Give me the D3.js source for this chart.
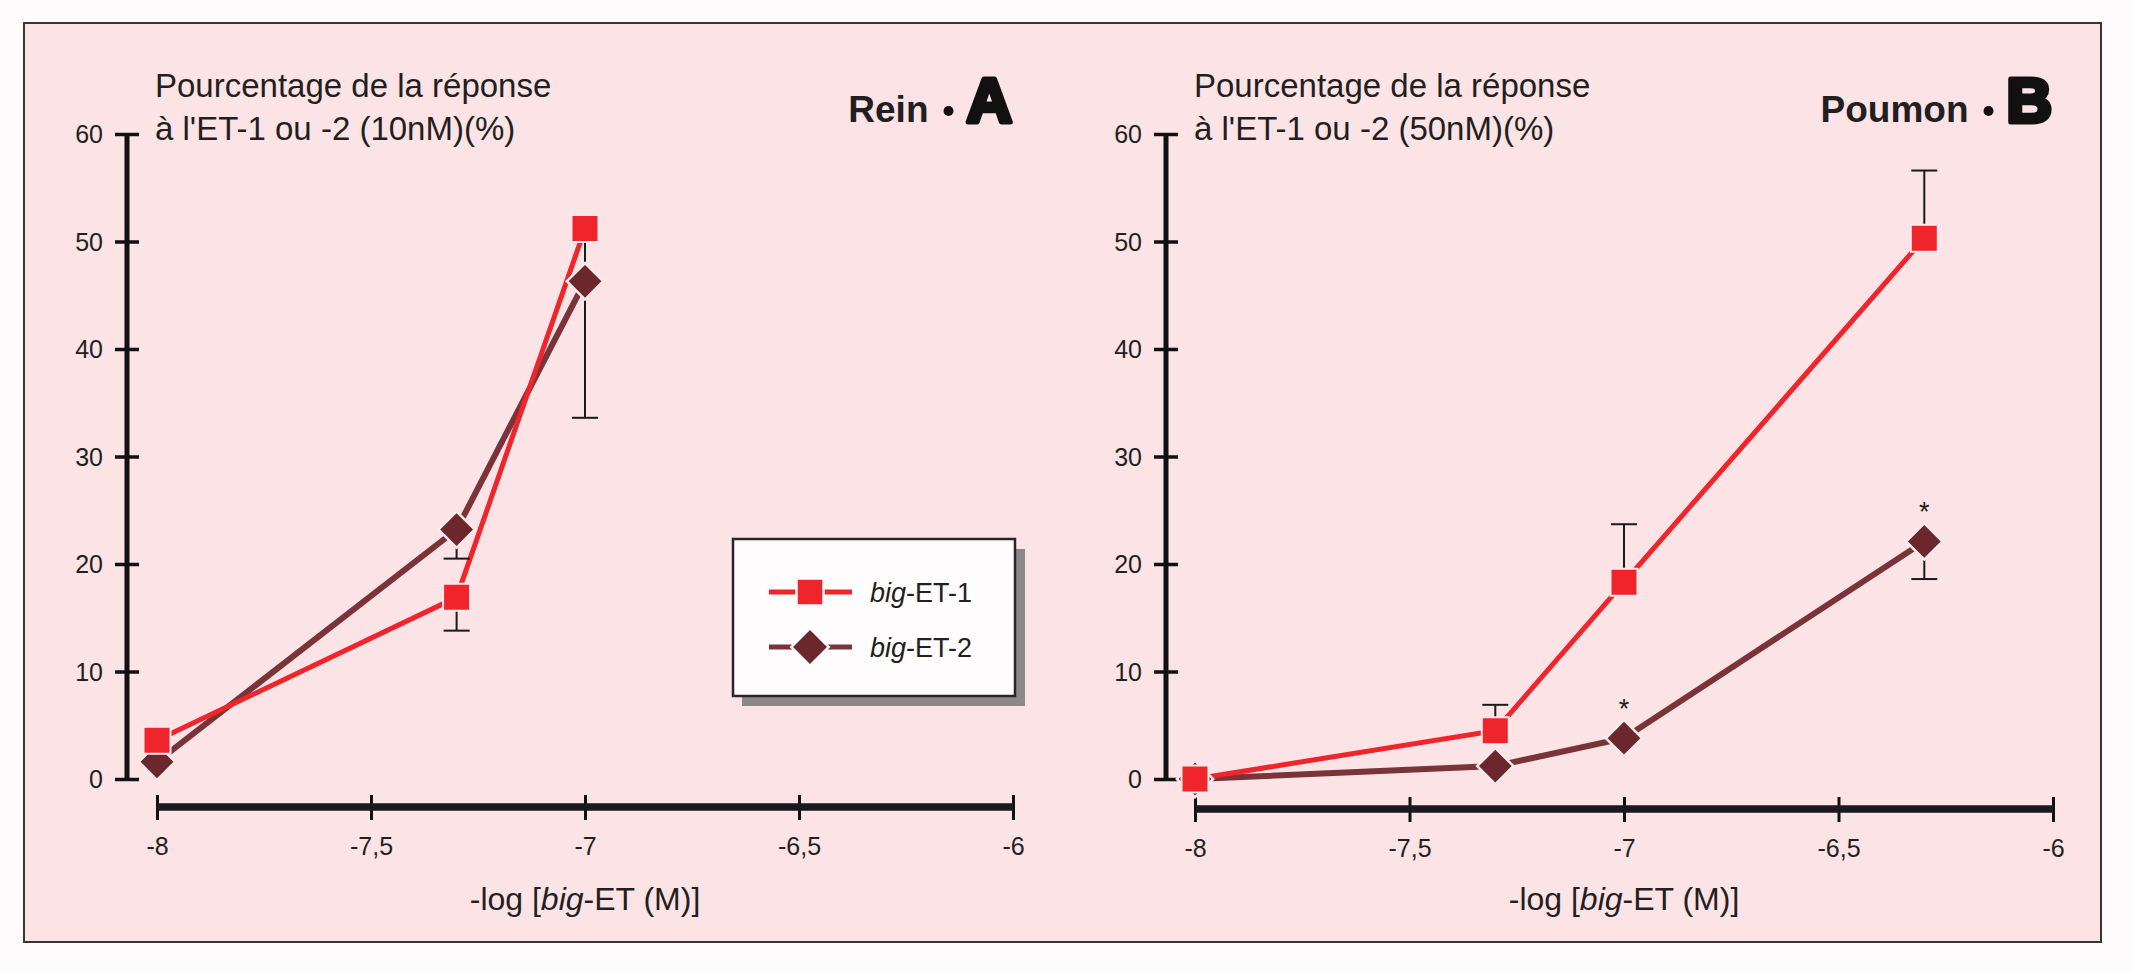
<!DOCTYPE html>
<html>
<head>
<meta charset="utf-8">
<script src="https://cdn.jsdelivr.net/npm/d3@7"></script>
<style>
  body { margin: 0; background: #fdfbfb; }
  text { font-family: "Liberation Sans", Arial, Helvetica, sans-serif; fill: #231f20; }
</style>
</head>
<body>
<script>
// data
const xTicks = [-8, -7.5, -7, -6.5, -6];
const xTickLabels = ["-8", "-7,5", "-7", "-6,5", "-6"];
const yTicks = [0, 10, 20, 30, 40, 50, 60];

const reinDoses = [-8, -7.3, -7];
const reinET1 = [3.6, 16.9, 51.2];
const reinET1Bar = [null, 13.8, 33.6];   // value at the error bar cap
const reinET2 = [1.6, 23.2, 46.3];
const reinET2Bar = [null, 20.5, null];

const poumonDoses = [-8, -7.3, -7, -6.3];
const poumonET1 = [0, 4.5, 18.3, 50.3];
const poumonET1Bar = [null, 6.9, 23.7, 56.6];
const poumonET2 = [0, 1.2, 3.8, 22.1];
const poumonET2Bar = [null, null, null, 18.6];
const poumonET2Star = [false, false, true, true];

const legendNames = ["ET-1", "ET-2"];

const red = "#f0242b";
const brown = "#6b272b";
const brownLine = "#7a3338";
const pink = "#fce3e6";

const W = 2132, H = 972;
const svg = d3.select("body").append("svg")
    .attr("width", W)
    .attr("height", H);

// frame
svg.append("rect")
    .attr("x", 24).attr("y", 23)
    .attr("width", 2077).attr("height", 919)
    .attr("fill", pink)
    .attr("stroke", "#3a3435")
    .attr("stroke-width", 2);

const y = d3.scaleLinear().domain([0, 60]).range([779, 134]);

function drawPanel(opt) {
    const g = svg.append("g");
    const x = d3.scaleLinear().domain([-8, -6]).range([opt.x0, opt.x1]);

    // y axis
    g.append("line")
        .attr("x1", opt.yAxisX).attr("x2", opt.yAxisX)
        .attr("y1", y(60)).attr("y2", y(0))
        .attr("stroke", "#111").attr("stroke-width", 5);
    const yAx = d3.axisLeft(y).tickValues(yTicks).tickSize(0).tickPadding(0);
    const ya = g.append("g")
        .attr("transform", `translate(${opt.yAxisX},0)`)
        .call(yAx);
    ya.select(".domain").remove();
    ya.selectAll(".tick line").remove();
    ya.selectAll(".tick").append("line")
        .attr("x1", -12).attr("x2", 12)
        .attr("stroke", "#111").attr("stroke-width", 3.5);
    ya.selectAll(".tick text")
        .attr("x", -24).attr("dy", "0.35em")
        .style("font-size", "25px")
        .style("font-family", "'Liberation Sans', Arial, sans-serif")
        .attr("fill", "#231f20");

    // x axis
    const xa = g.append("g")
        .attr("transform", `translate(0,${opt.xAxisY})`)
        .call(d3.axisBottom(x).tickValues(xTicks).tickSize(0)
            .tickFormat((d, i) => xTickLabels[i]));
    xa.select(".domain").remove();
    xa.append("line")
        .attr("x1", x(-8)).attr("x2", x(-6))
        .attr("stroke", "#1a1a1a").attr("stroke-width", 7.5);
    xa.selectAll(".tick").append("line")
        .attr("y1", -12).attr("y2", 13)
        .attr("stroke", "#111").attr("stroke-width", 3);
    xa.selectAll(".tick text")
        .attr("y", 48).attr("dy", 0)
        .style("font-size", "25px")
        .style("font-family", "'Liberation Sans', Arial, sans-serif")
        .attr("fill", "#231f20");

    // axis titles
    const t = g.append("text").style("font-size", "33px");
    t.append("tspan").attr("x", opt.yAxisX + 28).attr("y", 97).text("Pourcentage de la réponse");
    t.append("tspan").attr("x", opt.yAxisX + 28).attr("y", 140).text(opt.ylabel2);

    const xt = g.append("text")
        .attr("x", (x(-8) + x(-6)) / 2).attr("y", 910)
        .attr("text-anchor", "middle")
        .style("font-size", "32px");
    xt.append("tspan").text("-log [");
    xt.append("tspan").style("font-style", "italic").text("big");
    xt.append("tspan").text("-ET (M)]");

    // panel label
    const letter = g.append("text")
        .attr("x", x(-6) - 1).attr("y", 122)
        .attr("text-anchor", "end")
        .style("font-size", "63px").style("font-weight", "bold")
        .style("paint-order", "stroke")
        .attr("stroke", "#111").attr("stroke-width", 5)
        .attr("stroke-linejoin", "round")
        .style("fill", "#111")
        .text(opt.letter);
    const lw = letter.node().getComputedTextLength() + 3;
    const bx = x(-6) - lw - 16;
    g.append("circle").attr("cx", bx).attr("cy", 111).attr("r", 5).attr("fill", "#111");
    g.append("text")
        .attr("x", bx - 20).attr("y", 122)
        .attr("text-anchor", "end")
        .style("font-size", "37px").style("font-weight", "bold")
        .text(opt.name);

    const line = d3.line().x(d => x(d[0])).y(d => y(d[1]));

    // lines
    g.append("path")
        .attr("d", line(d3.zip(opt.doses, opt.et2)))
        .attr("fill", "none").attr("stroke", brownLine).attr("stroke-width", 6);
    g.append("path")
        .attr("d", line(d3.zip(opt.doses, opt.et1)))
        .attr("fill", "none").attr("stroke", red).attr("stroke-width", 5);

    // error bars
    const bars = [];
    opt.doses.forEach((d, i) => {
        if (opt.et1Bar[i] != null) bars.push([d, opt.et1[i], opt.et1Bar[i]]);
        if (opt.et2Bar[i] != null) bars.push([d, opt.et2[i], opt.et2Bar[i]]);
    });
    const eb = g.append("g").attr("stroke", "#1a1a1a").attr("stroke-width", 2);
    eb.selectAll(".v").data(bars).join("line")
        .attr("x1", d => x(d[0])).attr("x2", d => x(d[0]))
        .attr("y1", d => y(d[1])).attr("y2", d => y(d[2]));
    eb.selectAll(".c").data(bars).join("line")
        .attr("x1", d => x(d[0]) - 13).attr("x2", d => x(d[0]) + 13)
        .attr("y1", d => y(d[2])).attr("y2", d => y(d[2]));

    // markers: diamonds below squares
    const sq = d3.symbol().type(d3.symbolSquare);
    g.selectAll(".dia").data(d3.zip(opt.doses, opt.et2)).join("path")
        .attr("d", sq.size(660)())
        .attr("transform", d => `translate(${x(d[0])},${y(d[1])}) rotate(45)`)
        .attr("fill", brown).attr("stroke", "#fbe9ec").attr("stroke-width", 2.5);
    g.selectAll(".sq").data(d3.zip(opt.doses, opt.et1)).join("path")
        .attr("d", sq.size(729)())
        .attr("transform", d => `translate(${x(d[0])},${y(d[1])})`)
        .attr("fill", red).attr("stroke", "#fbe9ec").attr("stroke-width", 2);

    // significance stars
    if (opt.stars) {
        g.selectAll(".star").data(opt.doses.map((d, i) => [d, opt.et2[i], opt.stars[i]]).filter(d => d[2]))
            .join("text")
            .attr("x", d => x(d[0])).attr("y", d => y(d[1]) - 20)
            .attr("text-anchor", "middle")
            .style("font-size", "27px")
            .text("*");
    }
}

drawPanel({
    x0: 157, x1: 1013, yAxisX: 127, xAxisY: 807,
    ylabel2: "à l'ET-1 ou -2 (10nM)(%)",
    name: "Rein", letter: "A",
    doses: reinDoses, et1: reinET1, et1Bar: reinET1Bar, et2: reinET2, et2Bar: reinET2Bar
});

drawPanel({
    x0: 1195, x1: 2053, yAxisX: 1166, xAxisY: 809,
    ylabel2: "à l'ET-1 ou -2 (50nM)(%)",
    name: "Poumon", letter: "B",
    doses: poumonDoses, et1: poumonET1, et1Bar: poumonET1Bar, et2: poumonET2, et2Bar: poumonET2Bar,
    stars: poumonET2Star
});

// legend
const lg = svg.append("g");
lg.append("rect")
    .attr("x", 742).attr("y", 549).attr("width", 283).attr("height", 157)
    .attr("fill", "#8c8889");
lg.append("rect")
    .attr("x", 733).attr("y", 539).attr("width", 282).attr("height", 157)
    .attr("fill", "#fefcfc").attr("stroke", "#2a2526").attr("stroke-width", 2.5);

const legendRows = [
    { name: legendNames[0], y: 592, color: red, fill: red, rot: 0, size: 729, w: 5 },
    { name: legendNames[1], y: 647, color: brownLine, fill: brown, rot: 45, size: 700, w: 5 }
];
legendRows.forEach(r => {
    lg.append("line")
        .attr("x1", 769).attr("x2", 852)
        .attr("y1", r.y).attr("y2", r.y)
        .attr("stroke", r.color).attr("stroke-width", r.w);
    lg.append("path")
        .attr("d", d3.symbol().type(d3.symbolSquare).size(r.size)())
        .attr("transform", `translate(810,${r.y}) rotate(${r.rot})`)
        .attr("fill", r.fill).attr("stroke", "#fefcfc").attr("stroke-width", 2.5);
    const tx = lg.append("text")
        .attr("x", 870).attr("y", r.y + 10)
        .style("font-size", "27px");
    tx.append("tspan").style("font-style", "italic").text("big");
    tx.append("tspan").text("-" + r.name);
});
</script>
</body>
</html>
